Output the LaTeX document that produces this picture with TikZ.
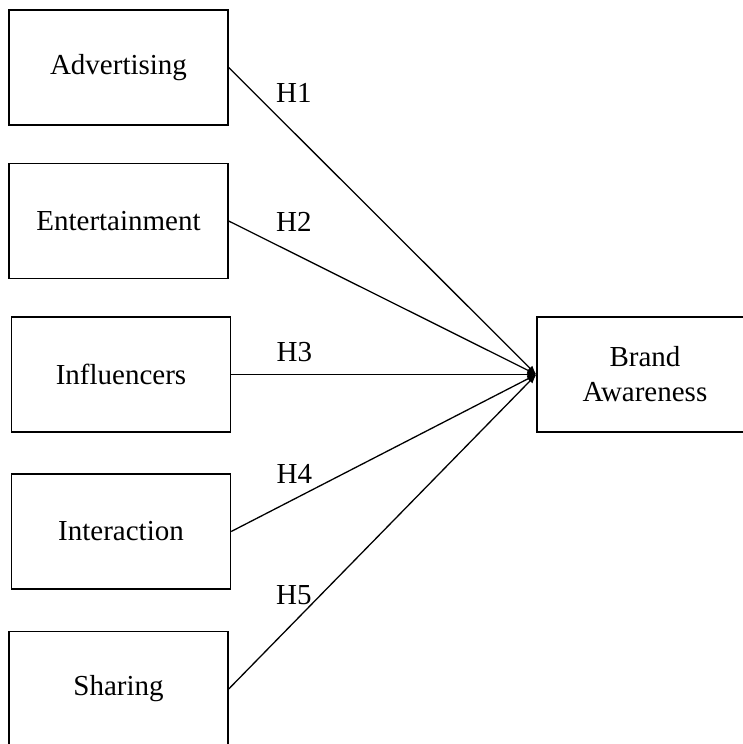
\documentclass[tikz,border=0pt]{standalone}
\usepackage{fontspec}
\setmainfont{Liberation Serif}
\usetikzlibrary{arrows.meta,positioning}

\begin{document}
\begin{tikzpicture}[
    x=1pt, y=-1pt,
    factor/.style={rectangle, draw, line width=1.4pt, minimum width=219pt, minimum height=115pt, inner sep=0pt, align=center, font=\fontsize{29}{35}\selectfont},
    hyp/.style={anchor=base west, inner sep=0pt, font=\fontsize{29}{35}\selectfont},
    arrow/.style={-{Latex[length=9pt,width=7pt]}, line width=1.3pt}
]
    \useasboundingbox (0,0) rectangle (743,744);

    % Factors
    \node[factor] (adv) at (118.5,67.5) {Advertising};
    \node[factor] (ent) at (118.5,221) {Entertainment};
    \node[factor] (inf) at (121,374.5) {Influencers};
    \node[factor] (int) at (121,531.5) {Interaction};
    \node[factor] (sha) at (118.5,689) {Sharing};

    % Outcome
    \node[factor, minimum width=216pt] (brand) at (645,374.5) {Brand\\Awareness};

    % Hypotheses
    \draw[arrow] (adv.east) -- node[hyp, pos=0.152, yshift=11.7pt] {H1} (brand.west);
    \draw[arrow] (ent.east) -- node[hyp, pos=0.152, yshift=13.3pt] {H2} (brand.west);
    \draw[arrow] (inf.east) -- node[hyp, pos=0.147, yshift=13pt] {H3} (brand.west);
    \draw[arrow] (int.east) -- node[hyp, pos=0.147, yshift=25pt] {H4} (brand.west);
    \draw[arrow] (sha.east) -- node[hyp, pos=0.152, yshift=37pt] {H5} (brand.west);
\end{tikzpicture}
\end{document}
